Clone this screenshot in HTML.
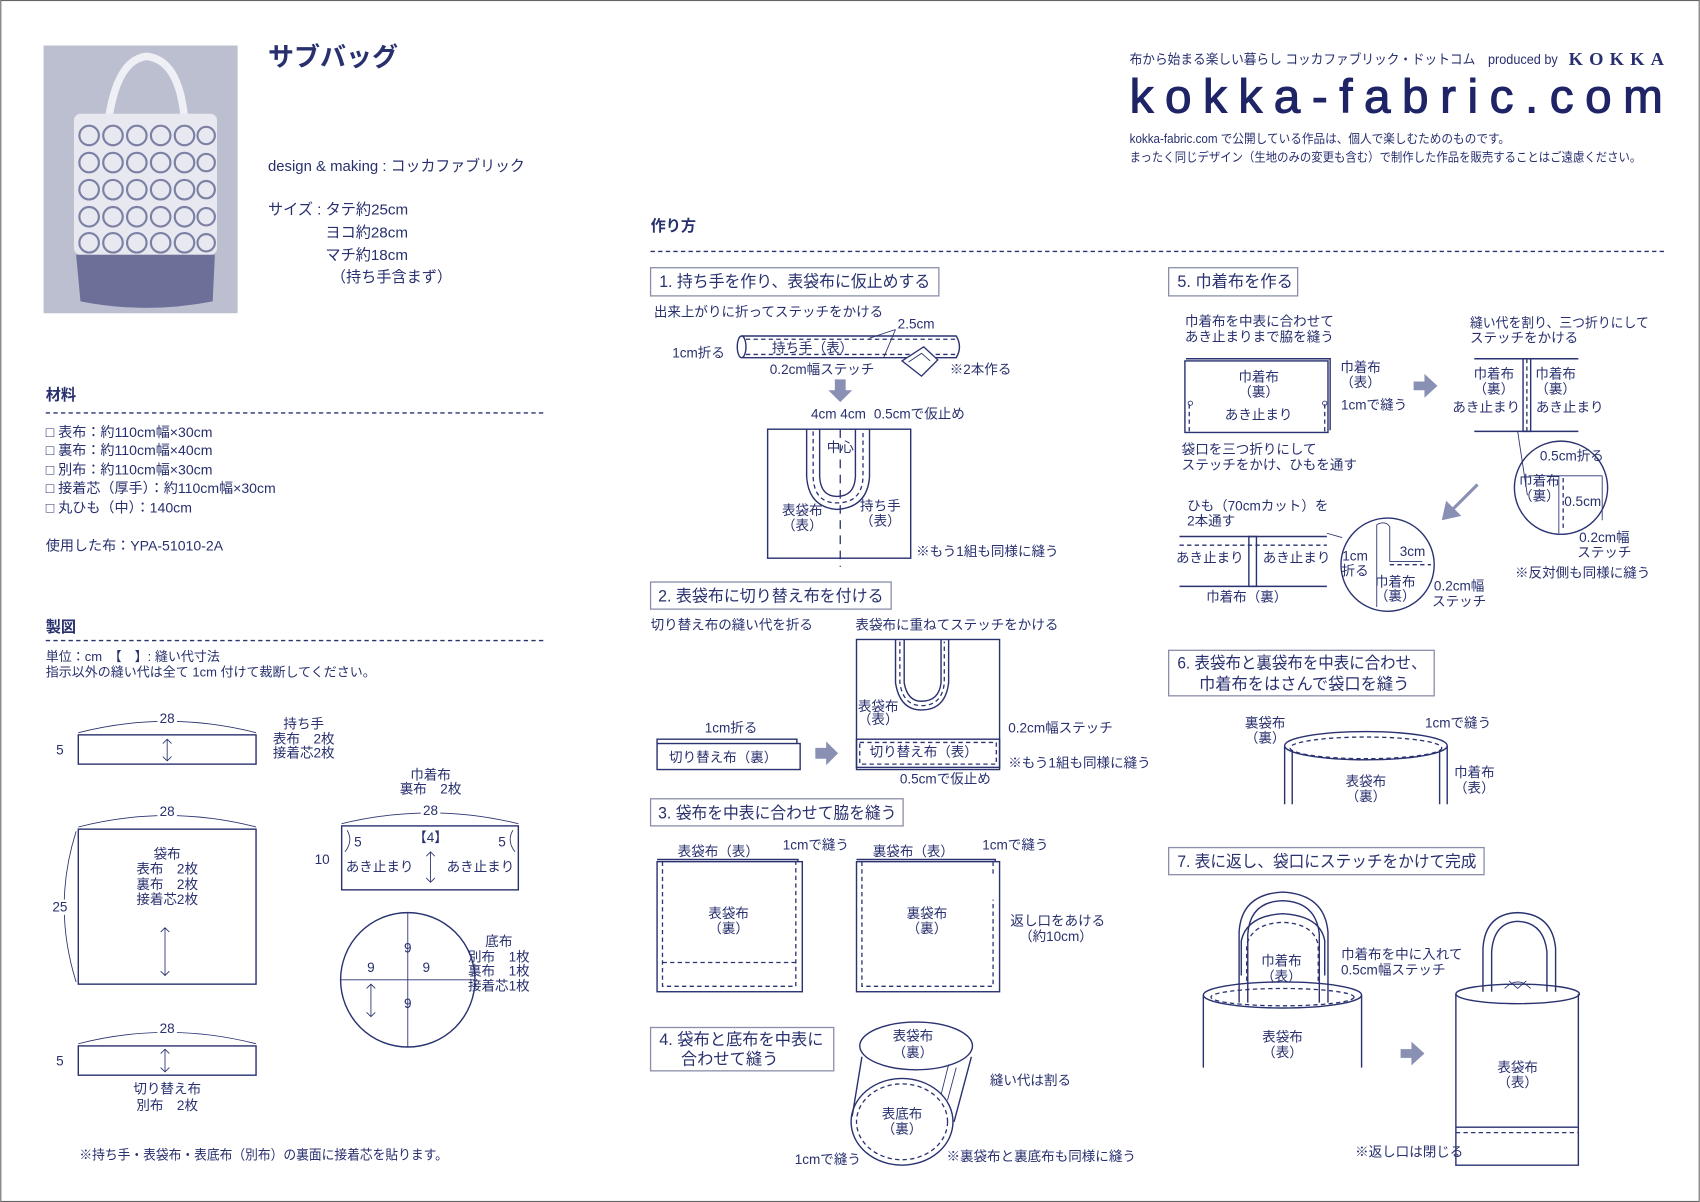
<!DOCTYPE html>
<html><head><meta charset="utf-8"><style>
html,body{margin:0;padding:0;background:#fff;}
svg{display:block;}
text{font-family:"Liberation Sans","Noto Sans CJK JP",sans-serif;fill:#28306e;font-size:12.5px;}
.c{text-anchor:middle;}
.h{font-size:15px;}
.b{font-weight:bold;}
.s{fill:none;stroke:#2a3270;stroke-width:1.3;}
.d{fill:none;stroke:#2a3270;stroke-width:1.2;stroke-dasharray:4 3;}
.t{fill:none;stroke:#2a3270;stroke-width:0.8;}
.bx{fill:#fff;stroke:#8a8ea8;stroke-width:1.2;}
.ar{fill:#8a90b4;}
</style></head><body>
<svg width="1700" height="1202" viewBox="0 0 1568 1109" xmlns="http://www.w3.org/2000/svg">
<rect x="0.5" y="0.5" width="1567" height="1108" fill="#fff" stroke="#666" stroke-width="1"/>

<!-- photo -->
<rect x="40" y="42" width="179" height="247" fill="#bcbfcf"/>
<path d="M100 110 Q108 55 135 52 Q165 55 170 110" fill="none" stroke="#eef0f6" stroke-width="7"/>
<rect x="68" y="105" width="132" height="130" rx="6" fill="#e8e9f0"/>
<g fill="none" stroke="#7c80a4" stroke-width="2">
<circle cx="82" cy="125" r="9"/><circle cx="104" cy="125" r="9"/><circle cx="126" cy="125" r="9"/><circle cx="148" cy="125" r="9"/><circle cx="170" cy="125" r="9"/><circle cx="190" cy="125" r="8"/>
<circle cx="82" cy="150" r="9"/><circle cx="104" cy="150" r="9"/><circle cx="126" cy="150" r="9"/><circle cx="148" cy="150" r="9"/><circle cx="170" cy="150" r="9"/><circle cx="190" cy="150" r="8"/>
<circle cx="82" cy="175" r="9"/><circle cx="104" cy="175" r="9"/><circle cx="126" cy="175" r="9"/><circle cx="148" cy="175" r="9"/><circle cx="170" cy="175" r="9"/><circle cx="190" cy="175" r="8"/>
<circle cx="82" cy="200" r="9"/><circle cx="104" cy="200" r="9"/><circle cx="126" cy="200" r="9"/><circle cx="148" cy="200" r="9"/><circle cx="170" cy="200" r="9"/><circle cx="190" cy="200" r="8"/>
<circle cx="82" cy="224" r="9"/><circle cx="104" cy="224" r="9"/><circle cx="126" cy="224" r="9"/><circle cx="148" cy="224" r="9"/><circle cx="170" cy="224" r="9"/><circle cx="190" cy="224" r="8"/>
</g>
<path d="M70 235 L198 235 L196 278 Q134 290 74 278 Z" fill="#6c6f98"/>

<text x="247" y="61" class="b" style="font-size:24px">サブバッグ</text>
<text x="247" y="158" style="font-size:14px" textLength="237" lengthAdjust="spacingAndGlyphs">design &amp; making : コッカファブリック</text>
<text x="247" y="198" style="font-size:14px">サイズ : タテ約25cm</text>
<text x="300" y="219" style="font-size:14px">ヨコ約28cm</text>
<text x="300" y="240" style="font-size:14px">マチ約18cm</text>
<text x="305" y="260" style="font-size:14px">（持ち手含まず）</text>

<!-- header right -->
<text x="1042" y="59" style="font-size:12.5px" textLength="395" lengthAdjust="spacingAndGlyphs">布から始まる楽しい暮らし コッカファブリック・ドットコム　produced by</text>
<text x="1447" y="60" textLength="88" lengthAdjust="spacing" style="font-family:'Liberation Serif',serif;font-size:17px;font-weight:bold">KOKKA</text>
<text x="1042" y="104" textLength="492" lengthAdjust="spacing" style="font-size:44px;fill:#1e2466;stroke:#1e2466;stroke-width:1">kokka-fabric.com</text>
<text x="1042" y="132" style="font-size:11.5px" textLength="351" lengthAdjust="spacingAndGlyphs">kokka-fabric.com で公開している作品は、個人で楽しむためのものです。</text>
<text x="1042" y="149" style="font-size:11.5px" textLength="472" lengthAdjust="spacingAndGlyphs">まったく同じデザイン（生地のみの変更も含む）で制作した作品を販売することはご遠慮ください。</text>

<!-- materials -->
<text x="42" y="369" class="b" style="font-size:14px">材料</text>
<line x1="42" y1="381" x2="503" y2="381" class="d"/>
<text x="42" y="403" style="font-size:13px">□ 表布：約110cm幅×30cm</text>
<text x="42" y="420" style="font-size:13px">□ 裏布：約110cm幅×40cm</text>
<text x="42" y="438" style="font-size:13px">□ 別布：約110cm幅×30cm</text>
<text x="42" y="455" style="font-size:13px">□ 接着芯（厚手）：約110cm幅×30cm</text>
<text x="42" y="473" style="font-size:13px">□ 丸ひも（中）：140cm</text>
<text x="42" y="508" style="font-size:13px">使用した布：YPA-51010-2A</text>

<text x="42" y="583" class="b" style="font-size:14px">製図</text>
<line x1="42" y1="591" x2="503" y2="591" class="d"/>
<text x="42" y="610" style="font-size:12px">単位：cm　【　】: 縫い代寸法</text>
<text x="42" y="624" style="font-size:12px">指示以外の縫い代は全て 1cm 付けて裁断してください。</text>

<!-- pattern pieces -->
<rect x="72" y="678" width="164" height="27" class="s"/>
<path d="M72 676 Q154 655 236 676" class="t"/><rect x="145" y="658" width="18" height="12" fill="#fff"/>
<text x="154" y="667" class="c">28</text><text x="55" y="696" class="c">5</text>
<path d="M154 682 V702 M150 686 L154 682 L158 686 M150 698 L154 702 L158 698" class="t"/>
<text x="280" y="672" class="c">持ち手</text><text x="280" y="686" class="c">表布　2枚</text><text x="280" y="699" class="c">接着芯2枚</text>

<rect x="72" y="765" width="164" height="143" class="s"/>
<path d="M72 763 Q154 742 236 763" class="t"/><rect x="145" y="745" width="18" height="12" fill="#fff"/>
<text x="154" y="753" class="c">28</text>
<path d="M70 767 Q48 836 70 906" class="t"/><rect x="46" y="830" width="18" height="14" fill="#fff"/>
<text x="55" y="841" class="c">25</text>
<text x="154" y="792" class="c">袋布</text><text x="154" y="806" class="c">表布　2枚</text><text x="154" y="820" class="c">裏布　2枚</text><text x="154" y="834" class="c">接着芯2枚</text>
<path d="M152 856 V900 M148 860 L152 856 L156 860 M148 896 L152 900 L156 896" class="t"/>

<text x="397" y="719" class="c">巾着布</text><text x="397" y="732" class="c">裏布　2枚</text>
<rect x="315" y="762" width="163" height="59" class="s"/>
<path d="M315 760 Q397 740 478 760" class="t"/><rect x="388" y="744" width="18" height="12" fill="#fff"/>
<text x="397" y="752" class="c">28</text><text x="297" y="797" class="c">10</text>
<text x="330" y="781" class="c">5</text><text x="463" y="781" class="c">5</text>
<text x="397" y="777" class="c">【4】</text>
<text x="350" y="804" class="c">あき止まり</text><text x="443" y="804" class="c">あき止まり</text>
<path d="M320 766 Q326 776 318 786 M473 766 Q467 776 475 786" class="t"/>
<path d="M397 786 V814 M393 790 L397 786 L401 790 M393 810 L397 814 L401 810" class="t"/>

<circle cx="376" cy="904" r="62" class="s"/>
<path d="M314 904 H438 M376 842 V966" class="t"/>
<text x="376" y="879" class="c">9</text><text x="376" y="930" class="c">9</text><text x="342" y="897" class="c">9</text><text x="393" y="897" class="c">9</text>
<path d="M342 908 V938 M338 912 L342 908 L346 912 M338 934 L342 938 L346 934" class="t"/>
<text x="460" y="873" class="c">底布</text><text x="460" y="887" class="c">別布　1枚</text><text x="460" y="900" class="c">裏布　1枚</text><text x="460" y="914" class="c">接着芯1枚</text>

<rect x="72" y="965" width="164" height="27" class="s"/>
<path d="M72 963 Q154 942 236 963" class="t"/><rect x="145" y="944" width="18" height="12" fill="#fff"/>
<text x="154" y="953" class="c">28</text><text x="55" y="983" class="c">5</text>
<path d="M152 968 V989 M148 972 L152 968 L156 972 M148 985 L152 989 L156 985" class="t"/>
<text x="154" y="1009" class="c">切り替え布</text><text x="154" y="1024" class="c">別布　2枚</text>
<text x="73" y="1070" textLength="340" lengthAdjust="spacingAndGlyphs">※持ち手・表袋布・表底布（別布）の裏面に接着芯を貼ります。</text>

<!-- how-to -->
<text x="600" y="213" class="b" style="font-size:14px">作り方</text>
<line x1="600" y1="232" x2="1535" y2="232" class="d"/>

<!-- 1 -->
<rect x="600" y="247" width="266" height="26" class="bx"/>
<text x="608" y="265" class="h" textLength="250" lengthAdjust="spacingAndGlyphs">1. 持ち手を作り、表袋布に仮止めする</text>
<text x="603" y="292">出来上がりに折ってステッチをかける</text>
<path d="M684 310 H882 Q888 320 882 330 H684" class="s"/>
<ellipse cx="684" cy="320" rx="4" ry="10" class="s"/>
<path d="M688 313 H882 M688 327 H882" class="d"/>
<text x="712" y="325">持ち手（表）</text>
<text x="828" y="303">2.5cm</text>
<path d="M826 304 L802 312 M826 304 L815 330" class="t"/>
<text x="620" y="330">1cm折る</text>
<text x="710" y="345">0.2cm幅ステッチ</text>
<path d="M832 333 L852 320 L865 332 L850 347 Z" fill="#fff" stroke="#2a3270" stroke-width="1.2"/>
<path d="M838 334 L850 326 L858 333" class="t"/>
<text x="876" y="345">※2本作る</text>
<path d="M770 350 h10 v10 h6 l-11 11 l-11 -11 h6 z" class="ar"/>
<text x="748" y="386">4cm 4cm</text><text x="806" y="386">0.5cmで仮止め</text>
<rect x="708" y="396" width="132" height="119" class="s"/>
<path d="M744 396 V440 Q746 468 772 470 Q800 468 802 440 V396 M756 396 V440 Q757 458 772 458 Q788 458 789 440 V396" class="s"/>
<path d="M750 398 V440 Q751 464 772 464 Q795 464 796 440 V398" class="d"/>
<line x1="775" y1="396" x2="775" y2="523" class="d" style="stroke-dasharray:8 6"/>
<text x="775" y="417" class="c">中心</text>
<text x="740" y="475" class="c">表袋布</text><text x="740" y="489" class="c">（表）</text>
<text x="812" y="471" class="c">持ち手</text><text x="812" y="485" class="c">（表）</text>
<text x="845" y="513">※もう1組も同様に縫う</text>

<!-- 2 -->
<rect x="600" y="537" width="222" height="25" class="bx"/>
<text x="607" y="555" class="h" textLength="208" lengthAdjust="spacingAndGlyphs">2. 表袋布に切り替え布を付ける</text>
<text x="600" y="581">切り替え布の縫い代を折る</text>
<text x="789" y="581">表袋布に重ねてステッチをかける</text>
<rect x="606" y="686" width="132" height="24" class="s"/>
<path d="M606 686 V682 H735 V686" class="s"/>
<text x="667" y="703" class="c">切り替え布（裏）</text>
<text x="650" y="676">1cm折る</text>
<path d="M752 690 h10 v-6 l11 11 l-11 11 v-6 h-10 z" class="ar"/>
<rect x="790" y="590" width="132" height="120" class="s"/>
<path d="M826 590 V630 Q830 655 850 655 Q872 655 875 630 V590 M834 590 V630 Q837 647 850 647 Q866 647 868 630 V590" class="s"/>
<path d="M830 592 V630 Q833 651 850 651 Q869 651 871 630 V592" class="d"/>
<rect x="790" y="682" width="132" height="26" class="s"/>
<rect x="793" y="685" width="126" height="20" class="d"/>
<text x="810" y="656" class="c">表袋布</text><text x="810" y="668" class="c">（表）</text>
<text x="852" y="698" class="c">切り替え布（表）</text>
<text x="930" y="676">0.2cm幅ステッチ</text>
<text x="930" y="708">※もう1組も同様に縫う</text>
<text x="830" y="723">0.5cmで仮止め</text>

<!-- 3 -->
<rect x="600" y="737" width="233" height="25" class="bx"/>
<text x="607" y="755" class="h" textLength="220" lengthAdjust="spacingAndGlyphs">3. 袋布を中表に合わせて脇を縫う</text>
<rect x="606" y="795" width="134" height="120" class="s"/>
<path d="M606 793 H736 V795" class="s"/>
<path d="M611 795 V910 H734 V795 M611 888 H734" class="d"/>
<text x="625" y="790">表袋布（表）</text><text x="722" y="784">1cmで縫う</text>
<text x="672" y="847" class="c">表袋布</text><text x="672" y="861" class="c">（裏）</text>
<rect x="790" y="795" width="132" height="120" class="s"/>
<path d="M790 793 H918 V795" class="s"/>
<path d="M795 795 V910 H916 V830 M916 795 V806" class="d"/>
<text x="805" y="790">裏袋布（表）</text><text x="906" y="784">1cmで縫う</text>
<text x="855" y="847" class="c">裏袋布</text><text x="855" y="861" class="c">（裏）</text>
<text x="932" y="854">返し口をあける</text><text x="940" y="868">（約10cm）</text>

<!-- 4 -->
<rect x="600" y="948" width="169" height="40" class="bx"/>
<text x="608" y="964" class="h">4. 袋布と底布を中表に</text>
<text x="628" y="982" class="h">合わせて縫う</text>
<ellipse cx="845" cy="965" rx="52" ry="22" class="s"/>
<path d="M795 975 L786 1030 M896 975 L880 1035" class="s"/>
<ellipse cx="832" cy="1035" rx="47" ry="40" class="s"/>
<ellipse cx="832" cy="1035" rx="42" ry="35" class="d"/>
<path d="M875 982 L868 1010 M882 985 L874 1015" class="t"/>
<text x="842" y="960" class="c">表袋布</text><text x="842" y="975" class="c">（裏）</text>
<text x="832" y="1032" class="c">表底布</text><text x="832" y="1046" class="c">（裏）</text>
<text x="913" y="1001">縫い代は割る</text>
<text x="733" y="1074">1cmで縫う</text>
<text x="873" y="1071">※裏袋布と裏底布も同様に縫う</text>

<!-- 5 -->
<rect x="1078" y="247" width="119" height="26" class="bx"/>
<text x="1086" y="265" class="h">5. 巾着布を作る</text>
<text x="1093" y="301">巾着布を中表に合わせて</text>
<text x="1093" y="315">あき止まりまで脇を縫う</text>
<rect x="1093" y="333" width="132" height="66" class="s"/>
<path d="M1094 331 H1227 V397" class="s"/>
<path d="M1097 373 V398 M1222 373 V398" class="d"/>
<circle cx="1098" cy="372" r="2" class="t"/><circle cx="1222" cy="372" r="2" class="t"/>
<text x="1161" y="352" class="c">巾着布</text><text x="1161" y="366" class="c">（裏）</text>
<text x="1161" y="387" class="c">あき止まり</text>
<text x="1255" y="343" class="c">巾着布</text><text x="1255" y="357" class="c">（表）</text>
<text x="1237" y="378">1cmで縫う</text>
<path d="M1304 352 h10 v-7 l12 11 l-12 11 v-7 h-10 z" class="ar"/>
<text x="1356" y="302" textLength="165" lengthAdjust="spacingAndGlyphs">縫い代を割り、三つ折りにして</text>
<text x="1356" y="316">ステッチをかける</text>
<path d="M1360 331 H1456 M1360 398 H1456" class="s"/>
<rect x="1405" y="331" width="7" height="67" class="s"/>
<line x1="1408.5" y1="331" x2="1408.5" y2="398" class="d"/>
<text x="1378" y="349" class="c">巾着布</text><text x="1378" y="363" class="c">（裏）</text>
<text x="1435" y="349" class="c">巾着布</text><text x="1435" y="363" class="c">（裏）</text>
<text x="1371" y="380" class="c">あき止まり</text><text x="1448" y="380" class="c">あき止まり</text>
<circle cx="1440" cy="450" r="43" class="s"/>
<path d="M1409 457 L1400 398" class="t"/>
<path d="M1410 439 H1478 M1438 439 V492 M1478 439 V480" class="t"/>
<line x1="1442" y1="441" x2="1442" y2="490" class="d"/>
<text x="1450" y="425" class="c">0.5cm折る</text>
<text x="1420" y="448" class="c">巾着布</text><text x="1420" y="462" class="c">（裏）</text>
<text x="1460" y="467" class="c">0.5cm</text>
<text x="1480" y="500" class="c">0.2cm幅</text><text x="1480" y="514" class="c">ステッチ</text>
<text x="1460" y="533" class="c">※反対側も同様に縫う</text>
<text x="1090" y="419">袋口を三つ折りにして</text>
<text x="1090" y="433">ステッチをかけ、ひもを通す</text>
<path d="M1362 446 L1340 468 L1334 462 L1330 480 L1348 476 L1342 470 L1364 448 Z" class="ar"/>
<text x="1095" y="471">ひも（70cmカット）を</text><text x="1095" y="485">2本通す</text>
<path d="M1088 495 H1224 M1088 541 H1224" class="s"/>
<line x1="1088" y1="503" x2="1224" y2="503" class="d"/>
<rect x="1152" y="495" width="7" height="46" class="s"/>
<text x="1116" y="519" class="c">あき止まり</text><text x="1196" y="519" class="c">あき止まり</text>
<text x="1150" y="555" class="c">巾着布（裏）</text>
<circle cx="1280" cy="521" r="43" class="s"/>
<path d="M1224 492 L1238 496" class="t"/>
<path d="M1270 484 V560 M1270 484 Q1278 480 1282 486 V518 H1312" class="t"/>
<line x1="1282" y1="521" x2="1320" y2="521" class="d"/>
<text x="1250" y="517" class="c">1cm</text><text x="1250" y="531" class="c">折る</text>
<text x="1303" y="513" class="c">3cm</text>
<text x="1287" y="541" class="c">巾着布</text><text x="1287" y="554" class="c">（裏）</text>
<text x="1346" y="545" class="c">0.2cm幅</text><text x="1346" y="559" class="c">ステッチ</text>

<!-- 6 -->
<rect x="1078" y="600" width="245" height="42" class="bx"/>
<text x="1086" y="617" class="h" textLength="230" lengthAdjust="spacingAndGlyphs">6. 表袋布と裏袋布を中表に合わせ、</text>
<text x="1106" y="636" class="h">巾着布をはさんで袋口を縫う</text>
<ellipse cx="1260" cy="688" rx="75" ry="13" class="s"/>
<ellipse cx="1260" cy="690" rx="70" ry="10" class="d"/>
<path d="M1185 688 V742 M1335 688 V742 M1192 692 V742 M1328 692 V742" class="s"/>
<text x="1167" y="671" class="c">裏袋布</text><text x="1167" y="685" class="c">（裏）</text>
<text x="1345" y="671" class="c">1cmで縫う</text>
<text x="1360" y="717" class="c">巾着布</text><text x="1360" y="731" class="c">（表）</text>
<text x="1260" y="725" class="c">表袋布</text><text x="1260" y="739" class="c">（裏）</text>

<!-- 7 -->
<rect x="1078" y="782" width="291" height="25" class="bx"/>
<text x="1086" y="800" class="h" textLength="276" lengthAdjust="spacingAndGlyphs">7. 表に返し、袋口にステッチをかけて完成</text>
<path d="M1143 925 V860 Q1145 825 1183 823 Q1222 825 1225 860 V925 M1151 925 V862 Q1153 832 1183 831 Q1214 832 1217 862 V925" class="s"/>
<path d="M1145 900 V868 Q1150 845 1183 843 Q1218 845 1222 868 V900" class="s"/>
<path d="M1150 905 V872 Q1155 852 1183 851 Q1212 852 1216 872 V905" class="d"/>
<ellipse cx="1183" cy="918" rx="73" ry="12" class="s"/>
<ellipse cx="1183" cy="920" rx="66" ry="8" class="d"/>
<path d="M1110 918 V985 M1256 918 V985" class="s"/>
<text x="1182" y="891" class="c">巾着布</text><text x="1182" y="905" class="c">（表）</text>
<text x="1237" y="885">巾着布を中に入れて</text><text x="1237" y="899">0.5cm幅ステッチ</text>
<text x="1183" y="961" class="c">表袋布</text><text x="1183" y="975" class="c">（表）</text>
<path d="M1292 968 h10 v-7 l12 11 l-12 11 v-7 h-10 z" class="ar"/>
<path d="M1368 915 V875 Q1370 843 1400 842 Q1432 843 1435 875 V915 M1376 915 V878 Q1378 851 1400 850 Q1424 851 1427 878 V915" class="s"/>
<path d="M1388 912 Q1400 900 1412 912 M1392 905 L1400 912 L1408 905" class="t"/>
<ellipse cx="1400" cy="917" rx="57" ry="9" class="s"/>
<path d="M1343 917 V1075 H1456 V917 M1343 1040 H1456" class="s"/>
<line x1="1343" y1="1045" x2="1456" y2="1045" class="d"/>
<text x="1400" y="989" class="c">表袋布</text><text x="1400" y="1003" class="c">（表）</text>
<text x="1250" y="1067">※返し口は閉じる</text>
</svg>
</body></html>
